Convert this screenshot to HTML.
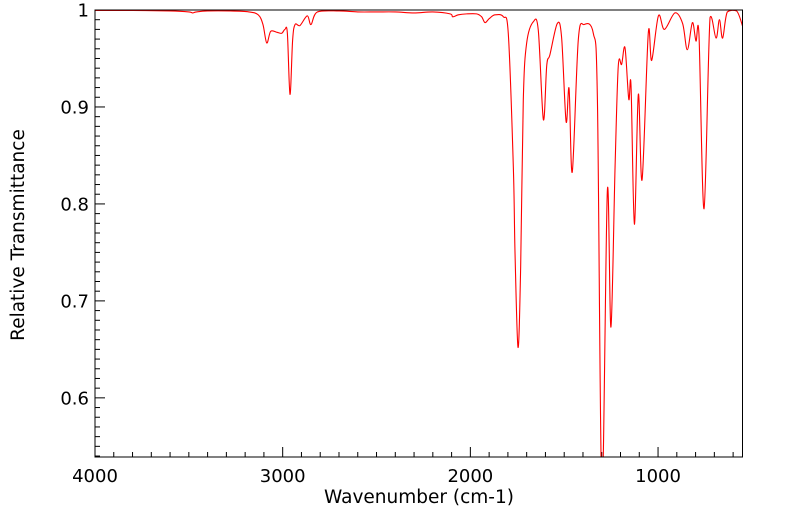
<!DOCTYPE html>
<html><head><meta charset="utf-8"><style>
html,body{margin:0;padding:0;background:#fff;}
svg{display:block;font-family:"DejaVu Sans","Liberation Sans",sans-serif;}
</style></head><body>
<svg id="chart" width="799" height="516">
<defs><clipPath id="pc"><rect x="95" y="10" width="647.5" height="447"/></clipPath></defs>
<g id="axes"></g>
<path id="spec" fill="none" stroke="#ff0000" stroke-width="1.1" clip-path="url(#pc)"/>
<rect x="95" y="10" width="647.5" height="447" fill="none" stroke="#000" stroke-width="1"/>
<text x="419" y="503" text-anchor="middle" font-size="18.5">Wavenumber (cm-1)</text>
<text transform="translate(24,235) rotate(-90)" text-anchor="middle" font-size="18.5">Relative Transmittance</text>
</svg>
<script>
const xTickValues = [4000, 3000, 2000, 1000];
const yTickValues = [1, 0.9, 0.8, 0.7, 0.6];
const yTickLabels = ["1", "0.9", "0.8", "0.7", "0.6"];
const wavenumbers = [4000,3800,3600,3500,3480,3460,3400,3281,3180,3130,3105,3085,3064,3030,3005,2988,2975,2961,2947,2934,2908,2869,2849,2815,2700,2600,2500,2400,2300,2200,2108,2094,2064,2020,1967,1940,1922,1900,1869,1824,1798,1771,1762,1746,1732,1718,1700,1664,1638,1611,1593,1576,1537,1514,1490,1474,1457,1425,1394,1345,1323,1299,1270,1251,1229,1212,1194,1176,1156,1144,1126,1105,1085,1052,1034,998,966,910,869,844,817,798,782,755,723,691,673,656,631,581,549];
const transmittance = [0.9995,0.9995,0.999,0.998,0.997,0.998,0.999,0.999,0.998,0.995,0.985,0.966,0.978,0.977,0.976,0.980,0.976,0.913,0.969,0.985,0.984,0.994,0.985,0.998,0.999,0.998,0.998,0.998,0.997,0.998,0.996,0.993,0.995,0.996,0.996,0.993,0.987,0.991,0.995,0.993,0.976,0.838,0.749,0.652,0.735,0.907,0.966,0.988,0.979,0.887,0.943,0.954,0.986,0.972,0.885,0.919,0.833,0.969,0.985,0.976,0.907,0.50,0.814,0.673,0.838,0.942,0.944,0.961,0.908,0.922,0.779,0.913,0.825,0.976,0.948,0.994,0.980,0.997,0.986,0.959,0.987,0.968,0.975,0.795,0.992,0.971,0.990,0.971,0.998,0.999,0.983];

const X0=95, X1=742.5, Y0=10, Y1=457;
const WMAX=4000, WMIN=550, TMAX=1, TMIN=0.539;
function xs(w){return X0+(WMAX-w)/(WMAX-WMIN)*(X1-X0);}
function ys(t){return Y0+(TMAX-t)/(TMAX-TMIN)*(Y1-Y0);}
const NS="http://www.w3.org/2000/svg";
const axes=document.getElementById('axes');
function line(x1,y1,x2,y2,name){
  const l=document.createElementNS(NS,'line');
  l.setAttribute('x1',x1);l.setAttribute('y1',y1);l.setAttribute('x2',x2);l.setAttribute('y2',y2);
  l.setAttribute('stroke','#000');l.setAttribute('stroke-width','1');
  
  
  axes.appendChild(l);
}
for(let w=4000; w>=WMIN; w-=100){
  const x=xs(w); const major=(w%1000===0);
  line(x,Y1,x,Y1-(major?10:5),'x-tick');
}
xTickValues.forEach(v=>{
  const t=document.createElementNS(NS,'text');
  t.setAttribute('x',xs(v));t.setAttribute('y',482);t.setAttribute('text-anchor','middle');t.setAttribute('font-size','18');
  t.textContent=String(v);
  
  
  axes.appendChild(t);
});
for(let i=100;i>=54;i--){
  const v=i/100; const y=ys(v); const major=(i%10===0);
  line(X0,y,X0+(major?10:5),y,'y-tick');
}
yTickValues.forEach((v,i)=>{
  const t=document.createElementNS(NS,'text');
  t.setAttribute('x',89);t.setAttribute('y',ys(v)+6.5);t.setAttribute('text-anchor','end');t.setAttribute('font-size','18');
  t.textContent=yTickLabels[i];
  
  
  axes.appendChild(t);
});
const pts=wavenumbers.map((w,i)=>[xs(w),ys(transmittance[i])]);
let d='M'+pts[0][0].toFixed(2)+','+pts[0][1].toFixed(2);
for(let i=0;i<pts.length-1;i++){
  const p0=pts[Math.max(0,i-1)],p1=pts[i],p2=pts[i+1],p3=pts[Math.min(pts.length-1,i+2)];
  const k=1/6;
  const c1=[p1[0]+(p2[0]-p0[0])*k,Math.max(Y0,p1[1]+(p2[1]-p0[1])*k)];
  const c2=[p2[0]-(p3[0]-p1[0])*k,Math.max(Y0,p2[1]-(p3[1]-p1[1])*k)];
  d+=' C'+c1[0].toFixed(2)+','+c1[1].toFixed(2)+' '+c2[0].toFixed(2)+','+c2[1].toFixed(2)+' '+p2[0].toFixed(2)+','+p2[1].toFixed(2);
}
document.getElementById('spec').setAttribute('d',d);
</script>
</body></html>
